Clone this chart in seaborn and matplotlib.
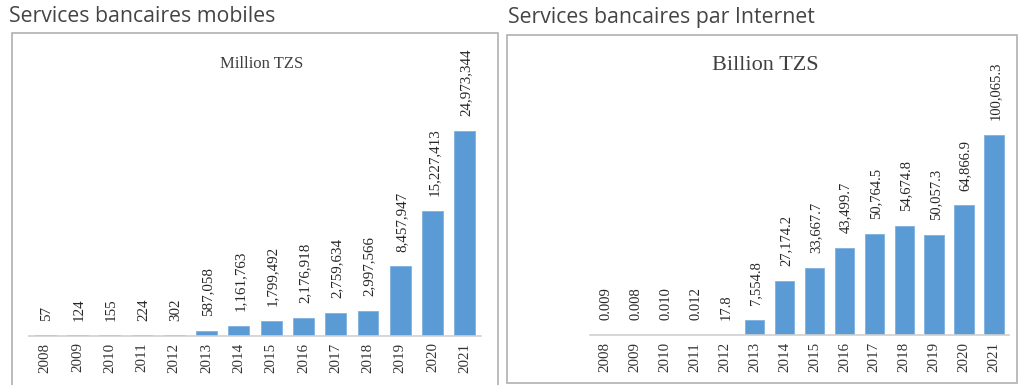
import matplotlib
matplotlib.use("Agg")
import matplotlib.pyplot as plt
from matplotlib.patches import Rectangle
import seaborn as sns
import pandas as pd

years = ["2008", "2009", "2010", "2011", "2012", "2013", "2014",
         "2015", "2016", "2017", "2018", "2019", "2020", "2021"]

# Mobile banking transactions, million TZS
mobile_values = [57, 124, 155, 224, 302, 587058, 1161763, 1799492,
                 2176918, 2759634, 2997566, 8457947, 15227413, 24973344]

# Internet banking transactions, billion TZS
internet_values = [0.009, 0.008, 0.010, 0.012, 17.8, 7554.8, 27174.2,
                   33667.7, 43499.7, 50764.5, 54674.8, 50057.3, 64866.9,
                   100065.3]

panel_titles = ["Services bancaires mobiles", "Services bancaires par Internet"]
unit_titles = ["Million TZS", "Billion TZS"]

sns.set_theme(style="white")
plt.rcParams["font.family"] = ["Liberation Serif", "DejaVu Serif"]

W, H = 1019, 385
fig = plt.figure(figsize=(W / 100, H / 100), dpi=100)
fig.patch.set_facecolor("white")

BAR = "#5b9bd5"


def fmt_mobile(v):
    return f"{v:,}"


def fmt_internet(v):
    return f"{v:.3f}" if v < 1 else f"{v:,.1f}"


def px_box(x0, y0, x1, y1):
    """Convert pixel box (top-left origin) to figure-fraction rect."""
    return [x0 / W, 1 - y1 / H, (x1 - x0) / W, (y1 - y0) / H]


def draw_panel(rect, values, fmt, unit, unit_size, unit_xy, top_frac,
               label_size):
    ax = fig.add_axes(rect)
    df = pd.DataFrame({"year": years, "value": values})
    sns.barplot(data=df, x="year", y="value", order=years, color=BAR,
                saturation=1, width=0.65, ax=ax, edgecolor="#7fb1e0",
                linewidth=0.6)
    ax.set_xlim(-0.5, len(years) - 0.5)
    ax.set_ylim(0, max(values) * top_frac)
    for bar, v in zip(ax.patches, values):
        ax.annotate(fmt(v), (bar.get_x() + bar.get_width() / 2, bar.get_height()),
                    xytext=(1, 10.5), textcoords="offset points", rotation=90,
                    ha="center", va="bottom", fontsize=label_size,
                    color="#262626")
    ax.set_xlabel("")
    ax.set_ylabel("")
    ax.set_yticks([])
    ax.tick_params(axis="x", length=0, pad=5, labelsize=10.8,
                   labelcolor="#333333")
    for lab in ax.get_xticklabels():
        lab.set_rotation(90)
    for s in ["top", "right", "left"]:
        ax.spines[s].set_visible(False)
    ax.spines["bottom"].set_color("#d0d0d0")
    ax.spines["bottom"].set_linewidth(1.2)
    ax.patch.set_alpha(0)
    fig.text(unit_xy[0] / W, 1 - unit_xy[1] / H, unit, ha="center",
             va="center", fontsize=unit_size, color="#404040")
    return ax


# Outer frames around each chart
fig.add_artist(Rectangle((12 / W, 1 - 390 / H), 486 / W, 357 / H,
                         transform=fig.transFigure, fill=False,
                         edgecolor="#b0b0b0", linewidth=1.2))
fig.add_artist(Rectangle((507 / W, 1 - 383 / H), 510 / W, 348 / H,
                         transform=fig.transFigure, fill=False,
                         edgecolor="#b0b0b0", linewidth=1.2))

# Panel headings
heading_font = ["Open Sans", "DejaVu Sans"]
fig.text(9 / W, 1 - 17 / H, panel_titles[0], ha="left", va="center",
         fontsize=15.3, color="#444444", family=heading_font)
fig.text(508 / W, 1 - 17 / H, panel_titles[1], ha="left", va="center",
         fontsize=15.3, color="#444444", family=heading_font)

draw_panel(px_box(29, 40, 481, 335.5), mobile_values, fmt_mobile,
           unit_titles[0], 12, (262, 64), 295.5 / 204.5, 10.8)
draw_panel(px_box(590, 40, 1009, 335), internet_values, fmt_internet,
           unit_titles[1], 16, (765, 65), 295 / 200, 10.5)

fig.savefig("out.png", dpi=100, facecolor="white")
